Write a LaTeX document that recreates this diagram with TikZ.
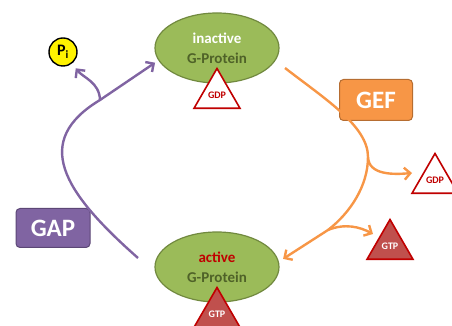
\documentclass[tikz,border=0pt]{standalone}
\usepackage{fontspec}
\setsansfont{Carlito}
\usetikzlibrary{shapes.geometric,arrows.meta}
\definecolor{gpfill}{HTML}{9BBB59}
\definecolor{gpdraw}{HTML}{71893F}
\definecolor{gptext}{HTML}{4F6228}
\definecolor{dred}{HTML}{C00000}
\definecolor{gtpred}{HTML}{C0504D}
\definecolor{gapcol}{HTML}{8064A2}
\definecolor{gapdark}{HTML}{5C4776}
\definecolor{gefcol}{HTML}{F79646}
\definecolor{gefdark}{HTML}{B66D31}

\begin{document}
\begin{tikzpicture}
  [x=1pt,y=1pt,font=\sffamily\bfseries,
    gprot/.style={ellipse,fill=gpfill,draw=gpdraw,line width=1.2pt,
      minimum width=124pt,minimum height=70pt,inner sep=0pt,align=center,
      font=\sffamily\bfseries\fontsize{15}{20}\selectfont},
    tri/.style={regular polygon,regular polygon sides=3,minimum size=53pt,
      inner sep=0pt,draw=dred,line width=1.6pt,
      font=\sffamily\bfseries\fontsize{10}{11}\selectfont},
    gdp/.style={tri,fill=white,text=dred},
    gtp/.style={tri,fill=gtpred,text=white},
    pinode/.style={circle,fill=yellow,draw=black,line width=1.4pt,
      minimum size=28pt,inner sep=0pt,font=\sffamily\bfseries\fontsize{16}{16}\selectfont},
    enzyme/.style={rounded corners=4pt,line width=1pt,text=white,inner sep=0pt,
      font=\sffamily\bfseries\fontsize{25}{25}\selectfont},
    gaparrow/.style={draw=gapcol,line width=2.4pt,-{Straight Barb[length=6pt,width=12pt]}},
    gefarrow/.style={draw=gefcol,line width=2.4pt,-{Straight Barb[length=6pt,width=12pt]}},
]
  \useasboundingbox (0,0) rectangle (452,326);
  \node[gprot] (inactive) at (217,278) {\textcolor{white}{inactive}\\\textcolor{gptext}{G-Protein}};
  \node[gdp] (gdp1) at (217,231) {GDP};
  \node[gprot] (active) at (217,59) {\textcolor{dred}{active}\\\textcolor{gptext}{G-Protein}};
  \node[gtp] (gtp1) at (217,12) {GTP};
  \node[pinode] (pi) at (63,274) {P\textsubscript{i}};
  \node[enzyme,fill=gapcol,draw=gapdark,minimum width=74pt,minimum height=39pt] (gap) at (53,98) {GAP};
  \node[enzyme,fill=gefcol,draw=gefdark,minimum width=73pt,minimum height=41pt] (gef) at (376,226) {GEF};
  \node[gdp] (gdp2) at (435,146) {GDP};
  \node[gtp] (gtp2) at (390,80) {GTP};

  \coordinate (gapfrom) at (138,68);
  \coordinate (gapfork) at (100,226);
  \coordinate (geffrom) at (285,258);
  \coordinate (geffork) at (368,169);
  \coordinate (gefmerge) at (328,96);
  \coordinate (gdpto) at (412,153);
  \coordinate (gtpto) at (373,92);

  \draw[gaparrow,shorten >=4pt] (gapfrom) .. controls (62,135) and (32,185) .. (gapfork) -- (inactive.192);
  \draw[gaparrow,shorten >=6pt] (gapfork) to[out=92,in=-52] (pi.-52);
  \draw[gefarrow,shorten >=5pt] (geffrom) .. controls (325,227) and (368,200) .. (geffork)
    .. controls (368,140) and (350,113) .. (gefmerge) -- (active.5);
  \draw[gefarrow] (geffork) to[out=-88,in=185] (gdpto);
  \draw[gefarrow] (gefmerge) .. controls (345,103) and (360,99) .. (gtpto);
\end{tikzpicture}
\end{document}
